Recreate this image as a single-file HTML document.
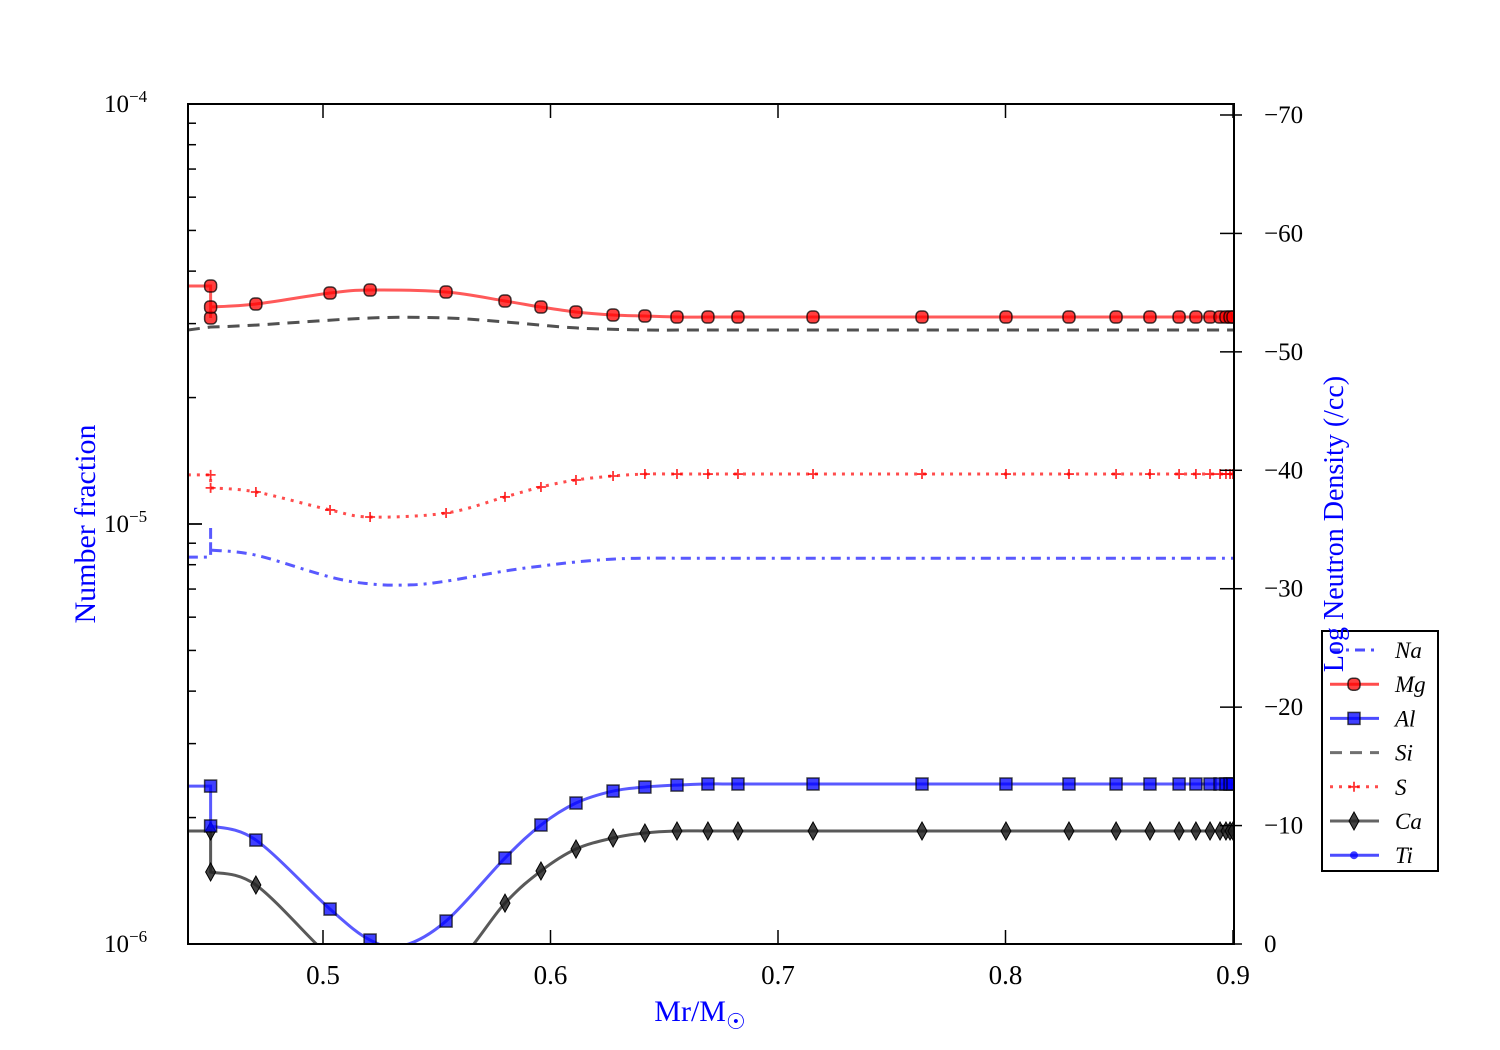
<!DOCTYPE html>
<html><head><meta charset="utf-8"><style>
html,body{margin:0;padding:0;background:#fff}
svg{display:block}
text{font-family:"Liberation Serif","DejaVu Serif",serif}
</style></head><body>
<svg id="c" width="1500" height="1050" viewBox="0 0 1500 1050" xmlns="http://www.w3.org/2000/svg">
<defs><clipPath id="clip"><rect x="188" y="104" width="1046" height="840"/></clipPath></defs>
<rect x="0" y="0" width="1500" height="1050" fill="#fff"/>
<g id="series" clip-path="url(#clip)"></g>
<g id="axes"></g>
<text x="95" y="524" transform="rotate(-90 95 524)" text-anchor="middle" font-size="30" fill="#0000ff">Number fraction</text>
<text x="700" y="1021" text-anchor="middle" font-size="30" fill="#0000ff">Mr/M<tspan font-size="22" dy="8" font-family="DejaVu Sans">☉</tspan></text>
<g id="legend"></g>
<text x="1343" y="524" transform="rotate(-90 1343 524)" text-anchor="middle" font-size="28" fill="#0000ff">Log Neutron Density (/cc)</text>
</svg>
<script>
const NS="http://www.w3.org/2000/svg";
// ---- data ----
const xTicks=[0.5,0.6,0.7,0.8,0.9];
const xTickLabels=["0.5","0.6","0.7","0.8","0.9"];
const rightTicks=[-70,-60,-50,-40,-30,-20,-10,0];
const rightTickLabels=["\u221270","\u221260","\u221250","\u221240","\u221230","\u221220","\u221210","0"];
const tailX=[0.6556,0.6692,0.6824,0.7154,0.7633,0.8002,0.8279,0.8486,0.8635,0.8763,0.8837,0.8899,0.8943,0.8969,0.8987,0.9];
const midX=[0.4705,0.5031,0.5207,0.5541,0.58,0.5958,0.6112,0.6275,0.6415];
const mgX=[0.4406,0.4506,0.4506,0.4506].concat(midX,tailX);
const mgY=[3.686e-5,3.686e-5,3.094e-5,3.285e-5,3.34e-5,3.548e-5,3.606e-5,3.567e-5,3.396e-5,3.285e-5,3.197e-5,3.145e-5,3.128e-5].concat(tailX.map(()=>3.11e-5));
const alX=[0.4406,0.4506,0.4506,0.4705,0.5031,0.5207,0.535,0.5541,0.58,0.5958,0.6112,0.6275,0.6415].concat(tailX);
const alY=[2.377e-6,2.377e-6,1.91e-6,1.768e-6,1.211e-6,1.022e-6,0.99e-6,1.134e-6,1.602e-6,1.92e-6,2.166e-6,2.313e-6,2.364e-6,2.39e-6].concat(tailX.slice(1).map(()=>2.404e-6));
const alMarked=[0,1,1,1,1,1,0,1,1,1,1,1,1].concat(tailX.map(()=>1));
const caX=[0.4406,0.4506,0.4506].concat(midX,tailX);
const caY=[1.858e-6,1.858e-6,1.484e-6,1.382e-6,0.93e-6,0.8e-6,0.86e-6,1.251e-6,1.492e-6,1.683e-6,1.788e-6,1.838e-6].concat(tailX.map(()=>1.858e-6));
const sX=[0.4406,0.4506,0.4506].concat(midX,tailX);
const sY=[1.309e-5,1.309e-5,1.219e-5,1.192e-5,1.08e-5,1.039e-5,1.062e-5,1.16e-5,1.225e-5,1.273e-5,1.301e-5,1.315e-5].concat(tailX.map(()=>1.315e-5));
const naX=[0.4406,0.4506,0.4506,0.4506,0.4705,0.5031,0.5207,0.5383,0.5541,0.58,0.5958,0.6112,0.6275,0.6415,0.66,0.7,0.9];
const naY=[8.34e-6,8.34e-6,9.78e-6,8.67e-6,8.43e-6,7.48e-6,7.2e-6,7.16e-6,7.31e-6,7.73e-6,7.94e-6,8.12e-6,8.25e-6,8.29e-6,8.29e-6,8.29e-6,8.29e-6];
const siX=[0.4406,0.4506,0.4705,0.5207,0.5541,0.58,0.6112,0.6415,0.66,0.7,0.9];
const siY=[2.897e-5,2.944e-5,2.976e-5,3.094e-5,3.094e-5,3.027e-5,2.93e-5,2.897e-5,2.897e-5,2.897e-5,2.897e-5];
// ---- scales ----
const X0=188,X1=1234,Y0=944,Y1=104;
const sx=v=>323+(v-0.5)*2275;
const sy=v=>104+(-4-Math.log10(v))*420;
const sr=v=>944+v*11.843;
function mk(tag,attrs,parent){const e=document.createElementNS(NS,tag);for(const k in attrs)e.setAttribute(k,attrs[k]);if(parent)parent.appendChild(e);return e;}
function pathD(xs,ys,k){
  const P=xs.map((x,i)=>[sx(x),sy(ys[i])]);
  let d="M"+P[0][0]+","+P[0][1];
  for(let i=1;i<P.length;i++){
    if(i<=k){d+=" L"+P[i][0]+","+P[i][1];continue;}
    const p0=P[Math.max(i-2,k)],p1=P[i-1],p2=P[i],p3=P[Math.min(i+1,P.length-1)];
    const c1=[p1[0]+(p2[0]-p0[0])/6,p1[1]+(p2[1]-p0[1])/6];
    const c2=[p2[0]-(p3[0]-p1[0])/6,p2[1]-(p3[1]-p1[1])/6];
    d+=" C"+c1+" "+c2+" "+p2;
  }
  return d;
}
const G=document.getElementById('series');
function marker(g,type,x,y,fill){
  let e;
  if(type==='o'){e=mk('rect',{x:x-6,y:y-6,width:12,height:12,rx:4.5,fill:fill,'fill-opacity':0.75,stroke:'#000','stroke-width':1.5,'stroke-opacity':0.75},g);}
  else if(type==='s'){e=mk('rect',{x:x-6,y:y-6,width:12,height:12,fill:fill,'fill-opacity':0.75,stroke:'#000','stroke-width':1.5,'stroke-opacity':0.7},g);}
  else if(type==='d'){e=mk('path',{d:`M${x},${y-9}L${x+5},${y}L${x},${y+9}L${x-5},${y}Z`,fill:'#222','fill-opacity':0.85,stroke:'#000','stroke-width':1},g);}
  else if(type==='+'){e=mk('path',{d:`M${x-5},${y}H${x+5}M${x},${y-5}V${y+5}`,stroke:'#ff0000','stroke-width':1.8,'stroke-opacity':0.8,fill:'none'},g);}
  else if(type==='.'){e=mk('circle',{cx:x,cy:y,r:4,fill:'#0000ff','fill-opacity':0.75},g);}
  return e;
}
function series(name,xs,ys,k,color,dash,mtype,mfill,alpha,marked){
  const g=mk('g',{},G);
  
  
  const p=mk('path',{d:pathD(xs,ys,k),fill:'none',stroke:color,'stroke-width':3,'stroke-opacity':alpha,'stroke-dasharray':dash},g);
  
  
  if(mtype){for(let i=1;i<xs.length;i++){if(marked&&!marked[i])continue;const m=marker(g,mtype,sx(xs[i]),sy(ys[i]),mfill);
    
    }}
}
series('na',naX,naY,3,'#0000ff','10,6,3,6','','',0.65);
series('si',siX,siY,1,'#333333','12,8','','',0.85);
series('s',sX,sY,2,'#ff0000','3,6','+','',0.7);
series('ca',caX,caY,2,'#222222','','d','',0.75);
series('al',alX,alY,2,'#0000ff','','s','#0000ff',0.65,alMarked);
series('mg',mgX,mgY,3,'#ff0000','','o','#ff0000',0.65);
// ---- axes ----
const A=document.getElementById('axes');
const fr=mk('rect',{x:X0,y:Y1,width:X1-X0,height:Y0-Y1,fill:'none',stroke:'#000','stroke-width':2},A);


xTicks.forEach((v,i)=>{
  const x=sx(v);
  mk('line',{x1:x,y1:Y0,x2:x,y2:Y0-14,stroke:'#000','stroke-width':1.5},A);
  mk('line',{x1:x,y1:Y1,x2:x,y2:Y1+14,stroke:'#000','stroke-width':1.5},A);
  const t=mk('text',{x:x,y:984,'text-anchor':'middle','font-size':27},A);t.textContent=xTickLabels[i];
  
  
});
for(let e=-6;e<=-5;e++){for(let m=1;m<=10;m++){const v=m*Math.pow(10,e);const y=sy(v);const len=(m===1||m===10)?14:8;
  mk('line',{x1:X0,y1:y,x2:X0+len,y2:y,stroke:'#000','stroke-width':1.5},A);}}
[[-4,"\u22124"],[-5,"\u22125"],[-6,"\u22126"]].forEach(([e,s])=>{
  const y=sy(Math.pow(10,e));
  const t=mk('text',{x:104,y:y+8,'font-size':25},A);
  t.innerHTML='10<tspan font-size="17" dy="-10">'+s+'</tspan>';
  
  
});
rightTicks.forEach((v,i)=>{
  const y=sr(v);
  mk('line',{x1:X1,y1:y,x2:X1-14,y2:y,stroke:'#000','stroke-width':1.5},A);
  mk('line',{x1:X1,y1:y,x2:X1+8,y2:y,stroke:'#000','stroke-width':1.5},A);
  const t=mk('text',{x:1264,y:y+8,'font-size':25},A);t.textContent=rightTickLabels[i];
  
  
});
// ---- legend ----
const L=document.getElementById('legend');
mk('rect',{x:1322,y:631,width:116,height:240,fill:'#fff','fill-opacity':0.8,stroke:'#000','stroke-width':2},L);
const legNames=['Na','Mg','Al','Si','S','Ca','Ti'];
const legStyle=[['#0000ff','10,6,3,6',''],['#ff0000','','o'],['#0000ff','','s'],['#333333','12,8',''],['#ff0000','3,6','+'],['#222222','','d'],['#0000ff','','.']];
legNames.forEach((n,i)=>{
  const y=650+i*34.2;
  const g=mk('g',{},L);
  
  
  mk('line',{x1:1330,y1:y,x2:1379,y2:y,stroke:legStyle[i][0],'stroke-width':3,'stroke-opacity':0.7,'stroke-dasharray':legStyle[i][1]},g);
  if(legStyle[i][2])marker(g,legStyle[i][2],1354,y,legStyle[i][0]);
  const t=mk('text',{x:1395,y:y+8,'font-size':23,'font-style':'italic'},g);t.textContent=n;
});
</script>
</body></html>
